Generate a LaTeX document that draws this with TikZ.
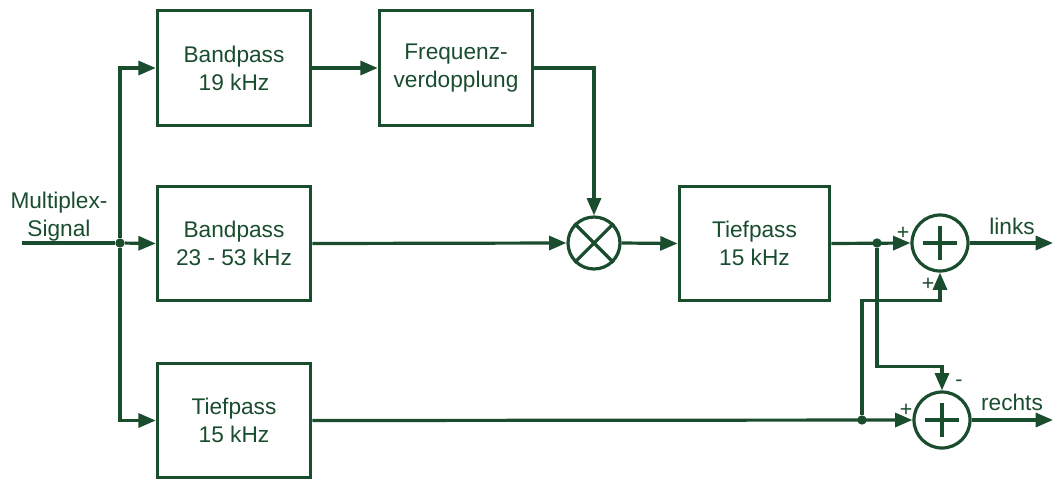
\documentclass[tikz,border=0pt]{standalone}
\usepackage{fontspec}
\setmainfont{Liberation Sans}
\usetikzlibrary{arrows.meta,calc}
\definecolor{dg}{RGB}{26,77,46}
\begin{document}
\begin{tikzpicture}[x=0.75pt,y=-0.75pt,
  ln/.style={draw=dg,line width=2.4pt},
  >={Triangle[length=13pt,width=10.5pt]},
  box/.style={draw=dg,line width=2.4pt,rectangle,minimum width=115pt,minimum height=86pt,align=center,text=dg,font=\fontsize{17}{21}\selectfont},
  opcirc/.style={draw=dg,line width=2.4pt,circle,minimum size=#1,inner sep=0pt},
  lbl/.style={text=dg,font=\fontsize{17}{21}\selectfont,align=center},
  sgn/.style={text=dg,font=\fontsize{16}{18}\selectfont,inner sep=0pt},
  dot/.style={circle,fill=dg,draw=none,minimum size=7pt,inner sep=0pt}]
\useasboundingbox (0,0) rectangle (1053,480);
% boxes
\node[box] (bp19) at (234,68) {Bandpass\\19 kHz};
\node[box] (fv) at (456,68) {Frequenz-\\verdopplung};
\node[box] (bp23) at (234,243.5) {Bandpass\\23 - 53 kHz};
\node[box] (tp1) at (234,420.5) {Tiefpass\\15 kHz};
\node[box,minimum width=113pt] (tp2) at (754.5,243.5) {Tiefpass\\15 kHz};
% multiplier
\node[opcirc=39pt] (mul) at (594,243) {};
\draw[ln] (mul.45) -- (mul.225) (mul.135) -- (mul.315);
% summers
\node[opcirc=42pt] (s1) at (940,243) {};
\draw[ln] ($(s1)+(-17,0)$) -- ($(s1)+(17,0)$) ($(s1)+(0,-17)$) -- ($(s1)+(0,17)$);
\node[opcirc=42pt] (s2) at (942,420) {};
\draw[ln] ($(s2)+(-17,0)$) -- ($(s2)+(17,0)$) ($(s2)+(0,-17)$) -- ($(s2)+(0,17)$);
% input
\coordinate (in) at (22,243);
\node[dot] (j1) at (120,243) {};
\node[lbl] (ms) at (59,217) {Multiplex-\\Signal};
\draw[ln] (in) -- (j1);
\draw[ln,->] (j1) |- (bp19.west);
\draw[ln,->] (j1) -- (bp23.west);
\draw[ln,->] (j1) |- (tp1.west);
% upper chain
\draw[ln,->] (bp19.east) -- (fv.west);
\draw[ln,->] (fv.east) -| (mul.north);
\draw[ln,->] (bp23.east) -- (mul.west);
\draw[ln,->] (mul.east) -- (tp2.west);
% right section
\node[dot] (j2) at (877,243) {};
\node[dot] (j3) at (862,420) {};
\draw[ln,->] (tp2.east) -- (s1.west);
\draw[ln,->] (tp1.east) -- (s2.west);
\draw[ln,->] (j2) |- ($(s2.north)+(0,-24)$) -- (s2.north);
\draw[ln,->] (j3) |- ($(s1.south)+(0,28)$) -- (s1.south);
\coordinate (o1) at (1053,243);
\coordinate (o2) at (1053,420);
\draw[ln,->] (s1.east) -- (o1);
\draw[ln,->] (s2.east) -- (o2);
\node[lbl] (lk) at (1012,226) {links};
\node[lbl] (re) at (1012,402) {rechts};
% signs
\node[sgn] (p1) at (903,233) {+};
\node[sgn] (p2) at (928,284) {+};
\node[sgn] (p3) at (906,410) {+};
\node[sgn] (m1) at (959,383) {-};
\end{tikzpicture}
\end{document}
